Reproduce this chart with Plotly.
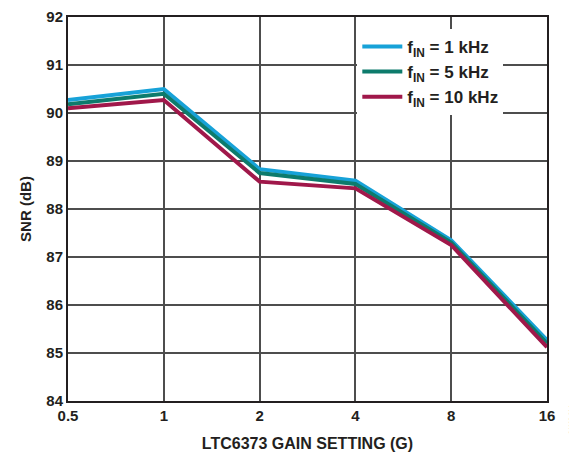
import plotly.graph_objects as go

gain = [0.5, 1, 2, 4, 8, 16]
gain_labels = ["0.5", "1", "2", "4", "8", "16"]
snr_1k = [90.27, 90.50, 88.83, 88.59, 87.35, 85.27]
snr_5k = [90.18, 90.40, 88.75, 88.52, 87.30, 85.20]
snr_10k = [90.10, 90.27, 88.57, 88.43, 87.25, 85.12]

series = [
    ("f<sub>IN</sub> = 1 kHz", snr_1k, "#17A2D8"),
    ("f<sub>IN</sub> = 5 kHz", snr_5k, "#0D7B6C"),
    ("f<sub>IN</sub> = 10 kHz", snr_10k, "#A0184A"),
]

FONT = "Liberation Sans, Arial, sans-serif"

fig = go.Figure()
for name, ys, color in series:
    fig.add_trace(
        go.Scatter(
            x=gain, y=ys, mode="lines", name=name,
            line=dict(color=color, width=4),
        )
    )

# page body has an 8px margin, so the figure is sized/offset to land on the reference
fig.update_layout(
    width=569,
    height=444,
    paper_bgcolor="white",
    plot_bgcolor="white",
    margin=dict(l=60, r=30, t=9, b=51),
    font=dict(family=FONT, color="#231F20"),
    showlegend=True,
    legend=dict(
        x=0.604, y=0.969, xanchor="left", yanchor="top",
        bgcolor="white",
        font=dict(size=17, family=FONT, color="#231F20", weight="bold"),
        tracegroupgap=0,
        itemwidth=40,
    ),
    xaxis=dict(
        type="log",
        range=[-0.30103, 1.20412],
        tickvals=gain,
        ticktext=gain_labels,
        showgrid=True,
        gridcolor="#4D4D4D",
        gridwidth=1.5,
        showline=True,
        linecolor="#231F20",
        linewidth=2,
        mirror=True,
        ticks="",
        tickfont=dict(size=15, weight="bold"),
        title=dict(text="LTC6373 GAIN SETTING (G)", font=dict(size=16, weight="bold"), standoff=17),
        zeroline=False,
        automargin=False,
    ),
    yaxis=dict(
        range=[84, 92],
        dtick=1,
        showgrid=True,
        gridcolor="#4D4D4D",
        gridwidth=1.5,
        showline=True,
        linecolor="#231F20",
        linewidth=2,
        mirror=True,
        ticks="",
        tickfont=dict(size=15, weight="bold"),
        title=dict(text="SNR (dB)", font=dict(size=15, weight="bold"), standoff=11),
        zeroline=False,
        automargin=False,
    ),
)

fig.add_annotation(
    text="24136-014", xref="paper", yref="paper", x=1.05, y=-0.09,
    showarrow=False, textangle=-90, font=dict(size=6, color="#888888"),
    xanchor="center", yanchor="bottom",
)

fig.write_html("out.html")
